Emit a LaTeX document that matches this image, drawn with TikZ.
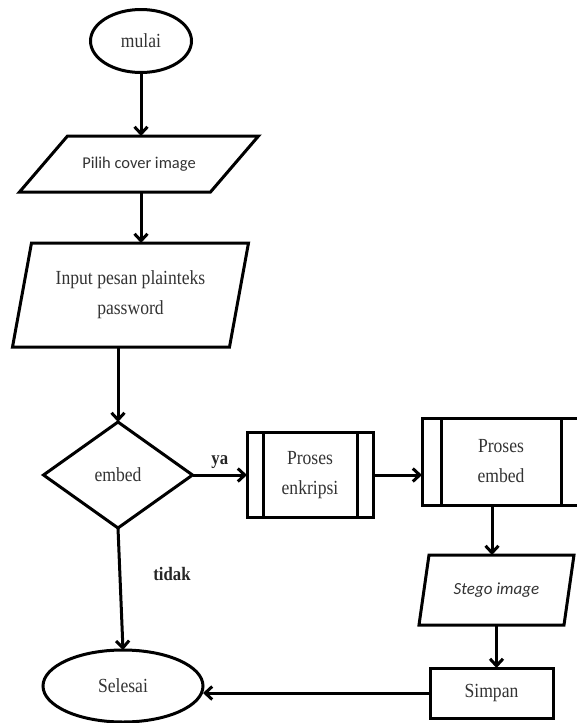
\documentclass[tikz,border=0pt]{standalone}
\usepackage{fontspec}
\setmainfont{Liberation Serif}[FakeStretch=0.88]
\newfontfamily\calib{Carlito}
\usetikzlibrary{arrows.meta,shapes.geometric}
\begin{document}
\begin{tikzpicture}[x=1pt,y=-1pt,line width=3pt,
  arr/.style={-{Straight Barb[length=7pt,width=13pt,line width=3pt]},line width=3pt},
  txt/.style={font=\fontsize{20}{30}\selectfont,text=black!80,align=center,inner sep=0pt,outer sep=0pt},
  shapebox/.style={txt,draw=none,minimum width=#1},
  procbox/.style={txt,draw,minimum width=#1},
  lbl/.style={font=\bfseries\fontsize{19}{20}\selectfont,text=black!85,inner sep=0pt}]
\useasboundingbox (0,0) rectangle (576,723);
% start
\node[txt,draw,ellipse,minimum width=101pt,minimum height=63pt] (mulai) at (141,41) {mulai};
% pilih cover image
\node[shapebox=191pt,minimum height=56pt,font=\calib\fontsize{16.5}{20}\selectfont] (pilih) at (139,164) {Pilih cover image};
\draw ([xshift=24pt]pilih.north west) -- ([xshift=24pt]pilih.north east) -- ([xshift=-24pt]pilih.south east) -- ([xshift=-24pt]pilih.south west) -- cycle;
% input
\node[shapebox=217pt,minimum height=104pt] (input) at (130.5,295) {Input pesan plainteks\\password};
\draw ([xshift=9.5pt]input.north west) -- ([xshift=9.5pt]input.north east) -- ([xshift=-9.5pt]input.south east) -- ([xshift=-9.5pt]input.south west) -- cycle;
% decision
\node[shapebox=149pt,minimum height=106pt] (embed) at (118,475) {embed};
\draw (embed.north) -- (embed.east) -- (embed.south) -- (embed.west) -- cycle;
% proses enkripsi
\node[procbox=126pt,minimum height=85pt] (enk) at (310,475) {Proses\\enkripsi};
\draw ([xshift=16pt]enk.north west) -- ([xshift=16pt]enk.south west);
\draw ([xshift=-16pt]enk.north east) -- ([xshift=-16pt]enk.south east);
% proses embed
\node[procbox=158pt,minimum height=87pt] (embproc) at (501,461.5) {Proses\\embed};
\draw ([xshift=19pt]embproc.north west) -- ([xshift=19pt]embproc.south west);
\draw ([xshift=-19pt]embproc.north east) -- ([xshift=-19pt]embproc.south east);
% stego image
\node[shapebox=145pt,minimum height=70pt,font=\calib\itshape\fontsize{17}{20}\selectfont] (stego) at (496.5,590) {Stego image};
\draw ([xshift=5pt]stego.north west) -- ([xshift=5pt]stego.north east) -- ([xshift=-5pt]stego.south east) -- ([xshift=-5pt]stego.south west) -- cycle;
% simpan
\node[procbox=123pt,minimum height=50pt] (simpan) at (491.5,693) {Simpan};
% selesai
\node[txt,draw,ellipse,minimum width=160pt,minimum height=72pt] (selesai) at (123,686) {Selesai};
% connectors
\draw[arr] (mulai.south) -- (mulai.south |- pilih.north);
\draw[arr] (mulai.south |- pilih.south) -- (mulai.south |- input.north);
\draw[arr] (embed.north |- input.south) -- (embed.north);
\draw[arr] (embed.east) -- (enk.west) node[lbl,midway,above=5pt] {ya};
\draw[arr] (enk.east) -- (enk.east -| embproc.west);
\draw[arr] ([xshift=-9pt]embproc.south) -- ([xshift=-9pt]embproc.south |- stego.north);
\draw[arr] (stego.south) -- (stego.south |- simpan.north);
\draw[arr] (simpan.west) -- (simpan.west -| selesai.east);
\draw[arr] (embed.south) -- (selesai.north) node[lbl,pos=0.38,right=32pt] {tidak};
\end{tikzpicture}
\end{document}
